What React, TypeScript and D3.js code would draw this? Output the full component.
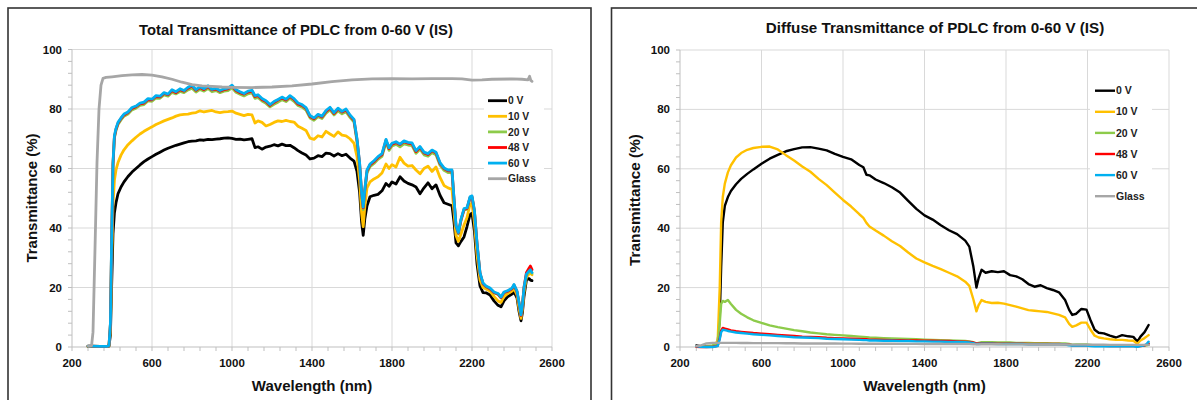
import React from "react";
import * as d3 from "d3";

// ---------- shared ticks / names ----------
const X_TICKS = [200, 600, 1000, 1400, 1800, 2200, 2600];
const Y_TICKS = [0, 20, 40, 60, 80, 100];
const SERIES_NAMES = ["0 V", "10 V", "20 V", "48 V", "60 V", "Glass"];
const TITLE_LEFT = "Total Transmittance of PDLC from 0-60 V (IS)";
const TITLE_RIGHT = "Diffuse Transmittance of PDLC from 0-60 V (IS)";
const X_LABEL = "Wavelength (nm)";
const Y_LABEL = "Transmittance (%)";

// ---------- left chart (total transmittance) ----------
const L_WL = [
  280, 300, 340, 375, 385, 392, 398, 405, 412, 420,
  430, 445, 460, 480, 500, 520, 540, 560, 580, 600,
  620, 640, 660, 680, 700, 720, 740, 760, 780, 800,
  820, 840, 860, 880, 900, 920, 940, 960, 980, 1000,
  1020, 1040, 1060, 1080, 1100, 1115, 1130, 1150, 1170, 1190,
  1210, 1230, 1250, 1270, 1290, 1310, 1330, 1350, 1370, 1390,
  1410, 1430, 1450, 1470, 1490, 1510, 1530, 1550, 1570, 1590,
  1610, 1625, 1638, 1648, 1656, 1664, 1675, 1690, 1710, 1730,
  1750, 1770, 1785, 1800, 1820, 1840, 1860, 1880, 1900, 1920,
  1940, 1960, 1980, 2000, 2020, 2040, 2060, 2080, 2100, 2110,
  2120, 2132, 2145, 2160, 2175, 2190, 2200, 2212, 2225, 2240,
  2255, 2270, 2290, 2310, 2330, 2345, 2360, 2380, 2400, 2410,
  2425, 2435, 2445, 2452, 2460, 2472, 2485, 2492, 2500,
];
const L_0V = [
  0.2, 0.2, 0.1, 0.1, 0.3, 4, 20, 38, 45, 48.5,
  51.5, 53.8, 55.5, 57.3, 58.8, 60, 61.2, 62.3, 63.2, 64,
  64.8, 65.5, 66.2, 66.8, 67.3, 67.8, 68.2, 68.6, 69, 69.2,
  69.3, 69.6, 69.5, 69.8, 69.7, 69.9, 70, 70.2, 70.3, 70.1,
  69.8, 69.9, 69.6, 69.8, 70, 67, 67.3, 66.5, 67.2, 67.5,
  68, 67.6, 68.2, 67.7, 67.8, 67, 66, 65.2, 64.5, 63.2,
  63.5, 64.3, 64, 65.2, 65, 64.2, 65, 64.3, 64.8, 63.5,
  62.5, 59, 52, 42, 37.5, 43, 47.5, 50.5, 51, 51.3,
  52.5, 55, 54, 55.5, 54.8, 57.2, 55.8, 55, 54.5, 53.8,
  51.5, 53.5, 55.2, 53.2, 54.5, 51, 48.5, 48, 47.5, 42,
  35, 34, 35.5, 37, 40.5, 44.5, 45, 39, 28, 20.5,
  18.3, 18.2, 17.5, 15.5, 14, 13.5, 15.5, 17, 17.8, 18.5,
  16.5, 12, 8.8, 11.5, 17, 22.5, 23, 22.5, 22.3,
];
const L_10V = [
  0.2, 0.2, 0.1, 0.1, 0.4, 6, 28, 48, 56, 59.5,
  62, 64.5, 66.3, 68, 69.3, 70.5, 71.6, 72.5, 73.3, 74,
  74.8, 75.4, 76, 76.5, 77, 77.6, 78, 78.2, 78.3, 78.6,
  78.8, 79.4, 79, 79.3, 79.5, 79, 78.8, 79, 79.1, 79.3,
  78.6, 78.2, 77.8, 78.2, 78, 75.3, 76, 75.5, 74.3, 74.8,
  75.5, 76, 75.8, 76.2, 75.8, 75.6, 74.2, 73.5, 72.8, 70.2,
  69.8, 71, 70.6, 72.5, 71.6, 70.8, 72.3, 71.2, 71, 70,
  68.5, 64, 56, 45, 40.5, 47, 53.5, 55.5, 56.5, 57.2,
  58.5, 61.5, 60, 61.3, 60.5, 63.8, 61.8, 60.8, 61, 59.5,
  58.2, 60, 60.8, 59, 60.5, 57, 54.3, 53.5, 53, 45.5,
  37.5, 35.5, 38, 41, 43.5, 48, 48.3, 42, 31, 22.5,
  20, 19.5, 18.8, 17, 15.5, 15, 17, 18, 18.8, 19.6,
  17.5, 13, 9.6, 12.8, 18.5, 23.5, 24.5, 24.8, 24.3,
];
const L_20V = [
  0.3, 0.3, 0.2, 0.2, 0.5, 7.5, 34, 61, 70.3, 72.8,
  74.8, 76.3, 77.6, 78.3, 79.7, 80.3, 81.2, 81.5, 82.7, 82.6,
  83.7, 83.6, 84.7, 84.3, 85.6, 85.1, 85.9, 85.5, 86.4, 87,
  85.7, 86.6, 86, 86.9, 85.8, 86.2, 85.5, 86, 86.2, 87.1,
  85.6, 85, 84.4, 85.1, 85.4, 83.6, 83.9, 82.7, 81.9, 80.7,
  81.6, 82.3, 83.1, 82.5, 83.6, 82.6, 81.2, 80.6, 79.6, 77,
  76.2, 77.4, 76.8, 78.6, 79.7, 78, 79.4, 78.4, 79.1, 77.2,
  75.6, 69, 61, 51, 46.2, 52, 58.5, 60.6, 61.7, 63.1,
  64.1, 68.8, 66.1, 67.6, 68.1, 67.3, 68.3, 67.9, 67.7, 65.1,
  66.5, 64.6, 64.1, 65.3, 64.6, 61.1, 59.4, 58.6, 58.6, 49.2,
  40.3, 38, 42.5, 46, 46.3, 50, 50.3, 45.5, 34.5, 24.6,
  21.2, 20.2, 19.5, 18.2, 17.7, 16.5, 18.2, 18.7, 19.5, 20.7,
  18.5, 14.8, 10.6, 13.8, 19.7, 24.2, 25.2, 25.7, 24.8,
];
const L_48V = [
  0.3, 0.3, 0.2, 0.2, 0.5, 7.5, 34, 61.5, 70.6, 73.2,
  75.2, 76.8, 78, 78.8, 80.2, 80.8, 81.7, 82, 83.2, 83.1,
  84.2, 84.1, 85.2, 84.8, 86.2, 85.5, 86.5, 86, 87, 87.7,
  86.3, 87.2, 86.5, 87.5, 86.4, 86.7, 86, 86.5, 86.8, 87.7,
  86.2, 85.5, 85, 85.7, 86, 84.2, 84.5, 83.2, 82.5, 81.2,
  82.2, 83, 83.7, 83, 84.2, 83.2, 81.7, 81.2, 80.2, 77.5,
  76.7, 78, 77.3, 79.2, 80.3, 78.5, 80, 79, 79.7, 77.7,
  76.2, 69.7, 61.7, 51.7, 46.8, 52.7, 59.2, 61.2, 62.3, 63.7,
  64.7, 69.5, 66.7, 68.2, 68.7, 68, 69, 68.5, 68.3, 65.7,
  67.1, 65.2, 64.7, 66, 65.2, 61.7, 60, 59.2, 59.2, 49.7,
  40.8, 38.3, 42.8, 46.2, 46.6, 50.2, 50.5, 45.8, 34.8, 24.8,
  21.3, 20.3, 19.6, 18.3, 17.8, 16.6, 18.3, 18.8, 19.6, 20.8,
  18.6, 14.8, 10.6, 13.8, 20, 25, 26.5, 27.2, 26,
];
const L_60V = [
  0.3, 0.3, 0.2, 0.2, 0.5, 8, 35, 62, 71, 73.5,
  75.5, 77, 78.3, 79, 80.5, 81, 82, 82.3, 83.5, 83.3,
  84.5, 84.3, 85.5, 85, 86.5, 85.8, 86.8, 86.2, 87.3, 88,
  86.5, 87.5, 86.8, 87.8, 86.6, 87, 86.2, 86.8, 87, 88,
  86.5, 85.8, 85.2, 86, 86.3, 84.5, 84.8, 83.5, 82.8, 81.5,
  82.5, 83.2, 84, 83.3, 84.5, 83.5, 82, 81.5, 80.5, 77.8,
  77, 78.2, 77.6, 79.5, 80.6, 78.8, 80.3, 79.2, 80, 78,
  76.5, 70, 62, 52, 47, 53, 59.5, 61.5, 62.6, 64,
  65, 69.8, 67, 68.5, 69, 68.2, 69.3, 68.8, 68.6, 66,
  67.4, 65.5, 65, 66.2, 65.5, 62, 60.2, 59.5, 59.5, 50,
  41, 38.5, 43, 46.5, 46.8, 50.5, 50.8, 46, 35, 25,
  21.5, 20.5, 19.8, 18.5, 18, 16.8, 18.5, 19, 19.8, 21,
  18.8, 15, 10.8, 14, 20, 24.5, 25.5, 26, 25,
];
const L_GLASS_WL = [
  282, 298, 305, 315, 325, 335, 345, 355, 370, 400,
  450, 500, 550, 600, 650, 700, 750, 800, 850, 900,
  950, 1000, 1100, 1200, 1300, 1400, 1500, 1600, 1700, 1800,
  1900, 2000, 2100, 2150, 2200, 2250, 2300, 2400, 2450, 2480,
  2488, 2494, 2500,
];
const L_GLASS = [
  0.3, 0.5, 5, 33, 62, 80, 88, 90.3, 90.6, 90.8,
  91.2, 91.5, 91.6, 91.4, 90.8, 90, 89, 88.2, 87.8, 87.6,
  87.4, 87.3, 87.2, 87.4, 87.8, 88.4, 89.2, 89.8, 90.1, 90.2,
  90.1, 90.2, 90.2, 90.1, 89.7, 89.8, 90, 90.1, 90, 89.8,
  91, 89.6, 89.3,
];

// ---------- right chart (diffuse transmittance) ----------
const R_WL = [
  280, 300, 330, 360, 385, 395, 402, 410, 420, 435,
  450, 475, 500, 530, 560, 600, 640, 680, 720, 760,
  800, 840, 880, 920, 960, 1000, 1040, 1080, 1100, 1115,
  1130, 1160, 1200, 1240, 1280, 1320, 1360, 1400, 1440, 1480,
  1520, 1560, 1600, 1620, 1640, 1655, 1665, 1680, 1700, 1730,
  1760, 1790, 1820, 1850, 1880, 1910, 1940, 1970, 2000, 2030,
  2060, 2090, 2110, 2125, 2145, 2170, 2195, 2215, 2235, 2255,
  2280, 2310, 2340, 2370, 2400, 2425, 2445, 2460, 2480, 2490,
  2500,
];
const R_0V = [
  0.5, 0.3, 0.2, 0.3, 1.5, 10, 27, 42, 47.5, 50.5,
  52.5, 54.8, 56.6, 58.3, 59.8, 61.7, 63.4, 64.7, 65.9, 66.6,
  67.2, 67.3, 66.8, 66.2, 65, 64, 63.2, 61.3, 60.5, 58,
  57.8, 56.4, 55.2, 53.8, 52, 49.2, 46.5, 44.3, 42.9, 41,
  39.3, 38, 35.8, 33.8, 27, 20, 23, 26, 25, 25.5,
  25.2, 25.5, 24.2, 23.8, 22.8, 21.2, 20.3, 20.8, 19.8, 19.2,
  18.4, 15.8, 12.5, 10.8, 11.2, 12.8, 12.6, 9, 5.8, 4.8,
  4.6, 3.8, 3.2, 4, 3.6, 3.4, 1.8, 3.5, 5, 6.2,
  7.4,
];
const R_10V = [
  0.3, 0.2, 0.2, 0.3, 2, 20, 42, 50.5, 55, 58.8,
  61.2, 63.8, 65.3, 66.4, 67, 67.4, 67.5, 66.5, 64.6, 62.8,
  60.8, 59, 56.6, 54.5, 52, 49.5, 47.3, 44.7, 43.5, 41.8,
  40.6, 39.2, 37.5, 35.6, 34, 31.8, 29.8, 28.5, 27.3, 26.2,
  25, 23.8, 22, 20.6, 16, 12, 14, 15.8, 15.2, 14.8,
  14.9, 14.6, 14.1, 13.6, 13, 12.4, 12.2, 12, 11.8, 11.3,
  10.8, 10, 7.8, 6.8, 7.3, 8.2, 8.2, 5.8, 3.8, 3.2,
  2.9, 2.6, 2.4, 2.4, 2.2, 2.1, 1.1, 2.2, 3, 3.5,
  4,
];
const R_20V = [
  0.2, 0.1, 0.3, 0.5, 1, 8, 14.5, 15.5, 15.2, 15.8,
  14.5, 12.5, 11.2, 10, 9, 8.1, 7.3, 6.7, 6.2, 5.7,
  5.3, 4.9, 4.6, 4.3, 4.1, 3.9, 3.7, 3.5, 3.4, 3.3,
  3.2, 3.1, 3, 2.9, 2.8, 2.7, 2.6, 2.5, 2.4, 2.3,
  2.2, 2.1, 2, 1.9, 1.6, 1.2, 1.4, 1.6, 1.6, 1.6,
  1.5, 1.5, 1.5, 1.4, 1.4, 1.4, 1.3, 1.3, 1.3, 1.2,
  1.2, 1.2, 1, 0.8, 0.9, 0.9, 0.9, 0.7, 0.5, 0.5,
  0.5, 0.4, 0.4, 0.4, 0.4, 0.4, 0.3, 0.4, 0.5, 0.6,
  0.7,
];
const R_48V = [
  0.1, 0, 0, 0.1, 0.4, 3, 5.5, 6.4, 6.2, 5.9,
  5.6, 5.3, 5.1, 4.9, 4.7, 4.5, 4.3, 4.1, 3.9, 3.7,
  3.5, 3.4, 3.3, 3.1, 3, 2.9, 2.8, 2.7, 2.6, 2.6,
  2.5, 2.5, 2.4, 2.3, 2.3, 2.2, 2.2, 2.1, 2.1, 2,
  2, 1.9, 1.8, 1.7, 1.5, 1.2, 1.2, 1.2, 1.2, 1.2,
  1.1, 1.1, 1.1, 1.1, 1.1, 1, 1, 1, 1, 1,
  1, 0.9, 0.8, 0.6, 0.6, 0.6, 0.6, 0.5, 0.4, 0.4,
  0.4, 0.3, 0.3, 0.3, 0.3, 0.3, 0.2, 0.3, 0.5, 0.8,
  1.2,
];
const R_60V = [
  0.3, 0.1, 0, 0, 0.3, 2.6, 5, 5.8, 5.7, 5.4,
  5.2, 4.9, 4.7, 4.5, 4.3, 4.1, 3.9, 3.7, 3.5, 3.3,
  3.2, 3.1, 3, 2.8, 2.7, 2.6, 2.5, 2.4, 2.3, 2.3,
  2.2, 2.2, 2.1, 2.1, 2, 2, 1.9, 1.9, 1.8, 1.8,
  1.7, 1.7, 1.6, 1.5, 1.3, 1, 1, 1.1, 1.1, 1.1,
  1, 1, 1, 1, 1, 0.9, 0.9, 0.9, 0.9, 0.9,
  0.9, 0.8, 0.6, 0.5, 0.5, 0.5, 0.5, 0.3, 0.2, 0.2,
  0.2, 0.2, 0.2, 0.2, 0.2, 0.2, 0.1, 0.3, 0.6, 1,
  1.8,
];
const R_GLASS = [
  0.3, 0.5, 1.2, 1.4, 1.4, 1.4, 1.4, 1.4, 1.4, 1.4,
  1.4, 1.4, 1.35, 1.35, 1.3, 1.3, 1.3, 1.3, 1.25, 1.25,
  1.2, 1.2, 1.2, 1.2, 1.2, 1.15, 1.15, 1.1, 1.1, 1.1,
  1.1, 1.1, 1.1, 1.1, 1.05, 1.05, 1.05, 1, 1, 1,
  1, 1, 1, 1, 0.95, 0.9, 0.9, 0.95, 0.95, 0.95,
  0.95, 0.9, 0.9, 0.9, 0.9, 0.9, 0.9, 0.85, 0.85, 0.85,
  0.85, 0.85, 0.8, 0.8, 0.8, 0.8, 0.8, 0.75, 0.75, 0.75,
  0.75, 0.7, 0.7, 0.7, 0.7, 0.7, 0.7, 0.7, 0.7, 0.7,
  0.7,
];

// ---------- styles ----------
const COLORS = ["#000000", "#FFC000", "#8DCB4A", "#FF0000", "#00B0F0", "#A6A6A6"];
const FONT = "'Liberation Sans', Arial, Helvetica, sans-serif";
const GRID = "#D9D9D9";
const TICK = "#BFBFBF";

type Series = { name: string; color: string; wl: number[]; vals: number[] };

type PanelProps = {
  series: Series[];
  plot: { x0: number; x1: number; y0: number; y1: number };
  title: string;
  titlePos: [number, number];
  titleSize: number;
  yLabelPos: [number, number];
  xLabelPos: [number, number];
  labelSize: number;
  tickSize: number;
  legend: { lx0: number; lx1: number; tx: number; y0: number; dy: number; box: [number, number, number, number]; size: number };
  lineWidth: number;
};

function Panel(p: PanelProps) {
  const x = d3.scaleLinear().domain([200, 2600]).range([p.plot.x0, p.plot.x1]);
  const y = d3.scaleLinear().domain([0, 100]).range([p.plot.y1, p.plot.y0]);
  const minorX = d3.range(200, 2600.1, 80);
  const minorY = d3.range(0, 100.1, 4);
  const line = d3
    .line<[number, number]>()
    .x((d) => x(d[0]))
    .y((d) => y(d[1]));
  const lg = p.legend;
  return (
    <g>
      {Y_TICKS.filter((t) => t > 0).map((t) => (
        <line key={"gy" + t} x1={p.plot.x0} x2={p.plot.x1} y1={y(t)} y2={y(t)} stroke={GRID} strokeWidth={1} />
      ))}
      {X_TICKS.filter((t) => t > 200).map((t) => (
        <line key={"gx" + t} x1={x(t)} x2={x(t)} y1={p.plot.y0} y2={p.plot.y1} stroke={GRID} strokeWidth={1} />
      ))}
      <line x1={p.plot.x0} x2={p.plot.x0} y1={p.plot.y0} y2={p.plot.y1} stroke={TICK} strokeWidth={1} />
      <line x1={p.plot.x0} x2={p.plot.x1} y1={p.plot.y1} y2={p.plot.y1} stroke={TICK} strokeWidth={1} />
      {minorY.map((t) => (
        <line key={"my" + t} x1={p.plot.x0 - 4} x2={p.plot.x0} y1={y(t)} y2={y(t)} stroke={TICK} strokeWidth={1} />
      ))}
      {minorX.map((t) => (
        <line key={"mx" + t} x1={x(t)} x2={x(t)} y1={p.plot.y1} y2={p.plot.y1 + 4} stroke={TICK} strokeWidth={1} />
      ))}
      {Y_TICKS.map((t) => (
        <text key={"ty" + t} x={p.plot.x0 - 10} y={y(t)} dy="0.35em" textAnchor="end" fontFamily={FONT} fontWeight="bold" fontSize={p.tickSize} fill="#111">
          {t}
        </text>
      ))}
      {X_TICKS.map((t) => (
        <text key={"tx" + t} x={x(t)} y={p.plot.y1 + 20} textAnchor="middle" fontFamily={FONT} fontWeight="bold" fontSize={p.tickSize} fill="#111">
          {t}
        </text>
      ))}
      {p.series.map((s) => (
        <path
          key={s.name}
          d={line(s.wl.map((w, i) => [w, s.vals[i]] as [number, number])) || ""}
          fill="none"
          stroke={s.color}
          strokeWidth={p.lineWidth}
          strokeLinejoin="round"
          strokeLinecap="round"
        />
      ))}
      <rect x={lg.box[0]} y={lg.box[1]} width={lg.box[2]} height={lg.box[3]} fill="#fff" />
      {p.series.map((s, i) => (
        <g key={"lg" + s.name}>
          <line x1={lg.lx0} x2={lg.lx1} y1={lg.y0 + i * lg.dy} y2={lg.y0 + i * lg.dy} stroke={s.color} strokeWidth={p.lineWidth} />
          <text x={lg.tx} y={lg.y0 + i * lg.dy} dy="0.35em" fontFamily={FONT} fontWeight="bold" fontSize={lg.size} fill="#222">
            {s.name}
          </text>
        </g>
      ))}
      <text x={p.titlePos[0]} y={p.titlePos[1]} textAnchor="middle" fontFamily={FONT} fontWeight="bold" fontSize={p.titleSize} fill="#111">
        {p.title}
      </text>
      <text x={p.xLabelPos[0]} y={p.xLabelPos[1]} textAnchor="middle" fontFamily={FONT} fontWeight="bold" fontSize={p.labelSize} fill="#111">
        {X_LABEL}
      </text>
      <text
        x={p.yLabelPos[0]}
        y={p.yLabelPos[1]}
        textAnchor="middle"
        dominantBaseline="central"
        transform={`rotate(-90, ${p.yLabelPos[0]}, ${p.yLabelPos[1]})`}
        fontFamily={FONT}
        fontWeight="bold"
        fontSize={p.labelSize}
        fill="#111"
      >
        {Y_LABEL}
      </text>
    </g>
  );
}

export default function App() {
  const leftVals = [L_0V, L_10V, L_20V, L_48V, L_60V];
  const leftSeries: Series[] = SERIES_NAMES.map((n, i) => ({
    name: n,
    color: COLORS[i],
    wl: i < 5 ? L_WL : L_GLASS_WL,
    vals: i < 5 ? leftVals[i] : L_GLASS,
  }));
  const rightVals = [R_0V, R_10V, R_20V, R_48V, R_60V, R_GLASS];
  const rightSeries: Series[] = SERIES_NAMES.map((n, i) => ({
    name: n,
    color: COLORS[i],
    wl: R_WL,
    vals: rightVals[i],
  }));
  return (
    <svg
      width={1197}
      height={400}
      viewBox="0 0 1197 400"
      style={{ position: "absolute", left: 0, top: 0, display: "block", background: "#fff" }}
    >
      <rect x={0} y={0} width={1197} height={400} fill="#fff" />
      <rect x={8} y={8} width={583} height={460} fill="#fff" stroke="#333" strokeWidth={1.6} />
      <rect x={611.5} y={8} width={700} height={460} fill="#fff" stroke="#333" strokeWidth={1.6} />
      <Panel
        series={leftSeries}
        plot={{ x0: 72, x1: 552, y0: 49.5, y1: 347 }}
        title={TITLE_LEFT}
        titlePos={[296, 34.5]}
        titleSize={14.8}
        yLabelPos={[31, 198]}
        xLabelPos={[312, 390.5]}
        labelSize={15}
        tickSize={11.5}
        legend={{ lx0: 488, lx1: 507, tx: 508, y0: 100.7, dy: 15.6, box: [484, 90, 60, 98], size: 10.3 }}
        lineWidth={2.8}
      />
      <Panel
        series={rightSeries}
        plot={{ x0: 680, x1: 1169, y0: 50, y1: 347 }}
        title={TITLE_RIGHT}
        titlePos={[935, 32.5]}
        titleSize={15.2}
        yLabelPos={[634.5, 200]}
        xLabelPos={[924.5, 390.5]}
        labelSize={15.3}
        tickSize={11.5}
        legend={{ lx0: 1095, lx1: 1115, tx: 1116, y0: 90.7, dy: 21.1, box: [1090, 80, 62, 126], size: 10.5 }}
        lineWidth={2.4}
      />
    </svg>
  );
}
